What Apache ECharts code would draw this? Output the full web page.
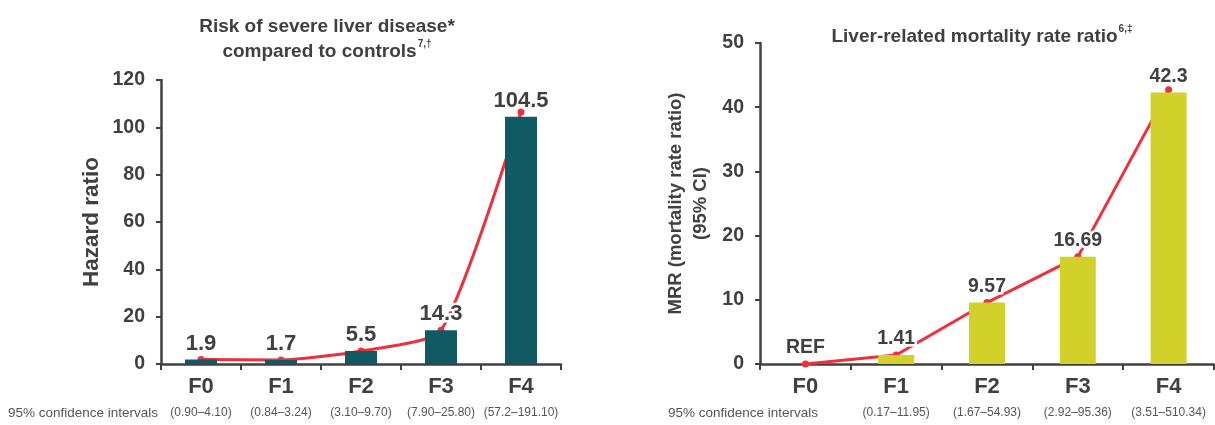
<!DOCTYPE html>
<html>
<head>
<meta charset="utf-8">
<script src="https://cdn.jsdelivr.net/npm/echarts@6/dist/echarts.min.js"></script>
<style>
html,body{margin:0;padding:0;background:#fff;}
#chart{width:1215px;height:425px;}
</style>
</head>
<body>
<div id="chart"></div>
<script>
// ---- Data ----
const categories = ['F0', 'F1', 'F2', 'F3', 'F4'];

const hazardValues = [1.9, 1.7, 5.5, 14.3, 104.5];
const hazardLine = [1.9, 1.7, 5.5, 14.3, 106.5];
const hazardLabels = ['1.9', '1.7', '5.5', '14.3', '104.5'];
const hazardCI = ['(0.90–4.10)', '(0.84–3.24)', '(3.10–9.70)', '(7.90–25.80)', '(57.2–191.10)'];
const hazardTicks = [0, 20, 40, 60, 80, 100, 120];

const mrrValues = [0, 1.41, 9.57, 16.69, 42.3];
const mrrLine = [0, 1.41, 9.57, 16.69, 42.7];
const mrrLabels = ['REF', '1.41', '9.57', '16.69', '42.3'];
const mrrCI = ['', '(0.17–11.95)', '(1.67–54.93)', '(2.92–95.36)', '(3.51–510.34)'];
const mrrTicks = [0, 10, 20, 30, 40, 50];

// ---- Styles ----
const FONT = '"Liberation Sans", Arial, sans-serif';
const DARK = '#404040';
const LINE_RED = '#ee2f3c';

const chart = echarts.init(document.getElementById('chart'), null, {renderer: 'canvas'});

function xAxisCfg(gridIndex, ciArr) {
  return {
    type: 'category', gridIndex: gridIndex, data: categories,
    axisLine: {lineStyle: {color: DARK, width: 2.5}},
    axisTick: {show: true, alignWithLabel: false, length: 6, lineStyle: {color: DARK, width: 2}},
    axisLabel: {
      interval: 0,
      margin: 9,
      formatter: function (v, i) { return '{c|' + v + '}\n{ci|' + (ciArr[i] || ' ') + '}'; },
      rich: {
        c: {fontFamily: FONT, fontWeight: 'bold', fontSize: 22, color: DARK, lineHeight: 27},
        ci: {fontFamily: FONT, fontSize: 12, color: '#555', lineHeight: 26}
      }
    }
  };
}

function yAxisCfg(gridIndex, ticks, name, nameGap, nameSize, nameLH) {
  return {
    type: 'value', gridIndex: gridIndex,
    min: ticks[0], max: ticks[ticks.length - 1], interval: ticks[1] - ticks[0],
    splitLine: {show: false},
    axisLine: {show: true, lineStyle: {color: DARK, width: 2.5}},
    axisTick: {show: true, length: 5, lineStyle: {color: DARK, width: 2}},
    axisLabel: {fontFamily: FONT, fontWeight: 'bold', fontSize: 19.5, color: DARK, margin: 16},
    name: name, nameLocation: 'middle', nameGap: nameGap, nameRotate: 90,
    nameTextStyle: {fontFamily: FONT, fontWeight: 'bold', fontSize: nameSize, color: DARK, lineHeight: nameLH}
  };
}

const option = {
  backgroundColor: '#fff',
  animation: false,
  title: [
    {
      text: '{t|Risk of severe liver disease*}\n{t|compared to controls}{s|7,†}',
      left: 322, top: 9, textAlign: 'center',
      textStyle: {
        rich: {
          t: {fontFamily: FONT, fontWeight: 'bold', fontSize: 19, color: DARK, lineHeight: 25},
          s: {fontFamily: FONT, fontWeight: 'bold', fontSize: 10, color: DARK, lineHeight: 25, verticalAlign: 'top', padding: [0, 0, 7, 1]}
        }
      }
    },
    {
      text: '{t|Liver-related mortality rate ratio}{s|6,‡}',
      left: 977, top: 19, textAlign: 'center',
      textStyle: {
        rich: {
          t: {fontFamily: FONT, fontWeight: 'bold', fontSize: 19, color: DARK, lineHeight: 25},
          s: {fontFamily: FONT, fontWeight: 'bold', fontSize: 10, color: DARK, lineHeight: 25, verticalAlign: 'top', padding: [0, 0, 7, 1]}
        }
      }
    }
  ],
  graphic: [
    {type: 'text', left: 8, top: 406, style: {text: '95% confidence intervals', font: '13.5px ' + FONT, fill: '#555'}},
    {type: 'text', left: 668, top: 406, style: {text: '95% confidence intervals', font: '13.5px ' + FONT, fill: '#555'}}
  ],
  grid: [
    {left: 161, width: 400, top: 80, bottom: 61, containLabel: false},
    {left: 760, width: 454, top: 43, bottom: 61, containLabel: false}
  ],
  xAxis: [xAxisCfg(0, hazardCI), xAxisCfg(1, mrrCI)],
  yAxis: [
    yAxisCfg(0, hazardTicks, 'Hazard ratio', 57, 22.5, 24),
    yAxisCfg(1, mrrTicks, 'MRR (mortality rate ratio)\n(95% CI)', 47, 18.5, 25)
  ],
  series: [
    {
      type: 'line', xAxisIndex: 0, yAxisIndex: 0, data: hazardLine, smooth: 0.2,
      symbol: 'circle', symbolSize: 7, showSymbol: true,
      lineStyle: {color: LINE_RED, width: 3}, itemStyle: {color: LINE_RED},
      z: 2
    },
    {
      type: 'bar', xAxisIndex: 0, yAxisIndex: 0, data: hazardValues, barWidth: 32,
      itemStyle: {color: '#0f5a63'},
      label: {
        show: true, position: 'top', distance: 5,
        formatter: function (p) { return hazardLabels[p.dataIndex]; },
        fontFamily: FONT, fontWeight: 'bold', fontSize: 22, color: DARK,
        textBorderColor: '#fff', textBorderWidth: 5
      },
      z: 3
    },
    {
      type: 'line', xAxisIndex: 1, yAxisIndex: 1, data: mrrLine,
      symbol: 'circle', symbolSize: 7, showSymbol: true,
      lineStyle: {color: LINE_RED, width: 3}, itemStyle: {color: LINE_RED},
      z: 2
    },
    {
      type: 'bar', xAxisIndex: 1, yAxisIndex: 1, data: mrrValues, barWidth: 36,
      itemStyle: {color: '#d2d12a'},
      label: {
        show: true, position: 'top', distance: 6,
        formatter: function (p) { return mrrLabels[p.dataIndex]; },
        fontFamily: FONT, fontWeight: 'bold', fontSize: 19.5, color: DARK,
        textBorderColor: '#fff', textBorderWidth: 5
      },
      z: 3
    }
  ]
};

chart.setOption(option);
</script>
</body>
</html>
